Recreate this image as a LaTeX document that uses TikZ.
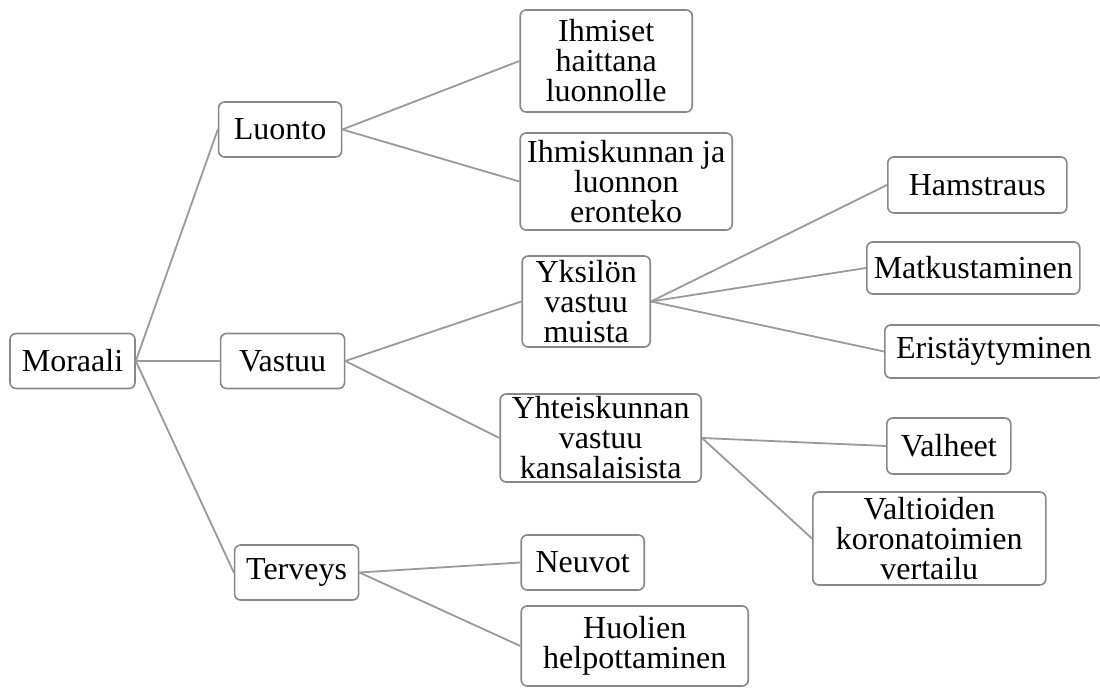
\documentclass[tikz,border=0pt]{standalone}
\usepackage{fontspec}
\setmainfont{Liberation Serif}
\usepackage{tikz}
\usetikzlibrary{positioning}
\definecolor{BoxGrey}{HTML}{888888}
\definecolor{LinkGrey}{HTML}{9A9A9A}

\begin{document}
\begin{tikzpicture}[x=1pt,y=1pt,
  box/.style={draw=BoxGrey,line width=1.6pt,rounded corners=6pt,fill=white,align=center,
    font=\fontsize{32}{30}\selectfont,inner xsep=5pt,inner ysep=1pt,minimum height=55pt},
  link/.style={LinkGrey,line width=1.8pt}]
  \useasboundingbox (0,0) rectangle (1100,691);
  % first level
  \node[box,minimum width=125pt] (moraali) at (72.5,330) {Moraali};
  \node[box,minimum width=123pt,right=82pt of moraali,yshift=231.5pt] (luonto) {Luonto};
  \node[box,minimum width=124pt,right=84pt of moraali] (vastuu) {Vastuu};
  \node[box,minimum width=124pt,right=98pt of moraali,yshift=-211.5pt] (terveys) {Terveys};
  % second level
  \node[box,minimum width=172pt,minimum height=102pt,right=177pt of luonto,yshift=68.5pt] (ihmiset) {Ihmiset\\haittana\\luonnolle};
  \node[box,minimum width=212pt,minimum height=97pt,right=177pt of luonto,yshift=-52pt] (eronteko) {Ihmiskunnan ja\\luonnon\\eronteko};
  \node[box,minimum width=128pt,minimum height=91pt,right=176pt of vastuu,yshift=59.5pt] (yksilo) {Yksilön\\vastuu\\muista};
  \node[box,minimum width=201pt,minimum height=88pt,right=154pt of vastuu,yshift=-77pt] (yhteis) {Yhteiskunnan\\vastuu\\kansalaisista};
  \node[box,minimum width=123pt,right=161pt of terveys,yshift=10pt] (neuvot) {Neuvot};
  \node[box,minimum width=227pt,minimum height=80pt,right=161pt of terveys,yshift=-73.5pt] (huolet) {Huolien\\helpottaminen};
  % third level
  \node[box,minimum width=179pt,minimum height=56pt,right=236pt of yksilo,yshift=116.5pt] (hamstraus) {Hamstraus};
  \node[box,minimum width=213pt,minimum height=52pt,right=215pt of yksilo,yshift=33.5pt] (matkat) {Matkustaminen};
  \node[box,minimum width=218pt,minimum height=53pt,right=233pt of yksilo,yshift=-50pt] (eristys) {Eristäytyminen};
  \node[box,minimum width=124pt,minimum height=56pt,right=184pt of yhteis,yshift=-8pt] (valheet) {Valheet};
  \node[box,minimum width=233pt,minimum height=93pt,right=110pt of yhteis,yshift=-100.5pt] (vertailu) {Valtioiden\\koronatoimien\\vertailu};
  % connectors
  \foreach \x in {luonto,vastuu,terveys}{
    \draw[link] (moraali.east) -- (\x.west);
  }
  \foreach \x in {ihmiset,eronteko}{
    \draw[link] (luonto.east) -- (\x.west);
  }
  \foreach \x in {yksilo,yhteis}{
    \draw[link] (vastuu.east) -- (\x.west);
  }
  \foreach \x in {neuvot,huolet}{
    \draw[link] (terveys.east) -- (\x.west);
  }
  \foreach \x in {hamstraus,matkat,eristys}{
    \draw[link] (yksilo.east) -- (\x.west);
  }
  \foreach \x in {valheet,vertailu}{
    \draw[link] (yhteis.east) -- (\x.west);
  }
\end{tikzpicture}
\end{document}
